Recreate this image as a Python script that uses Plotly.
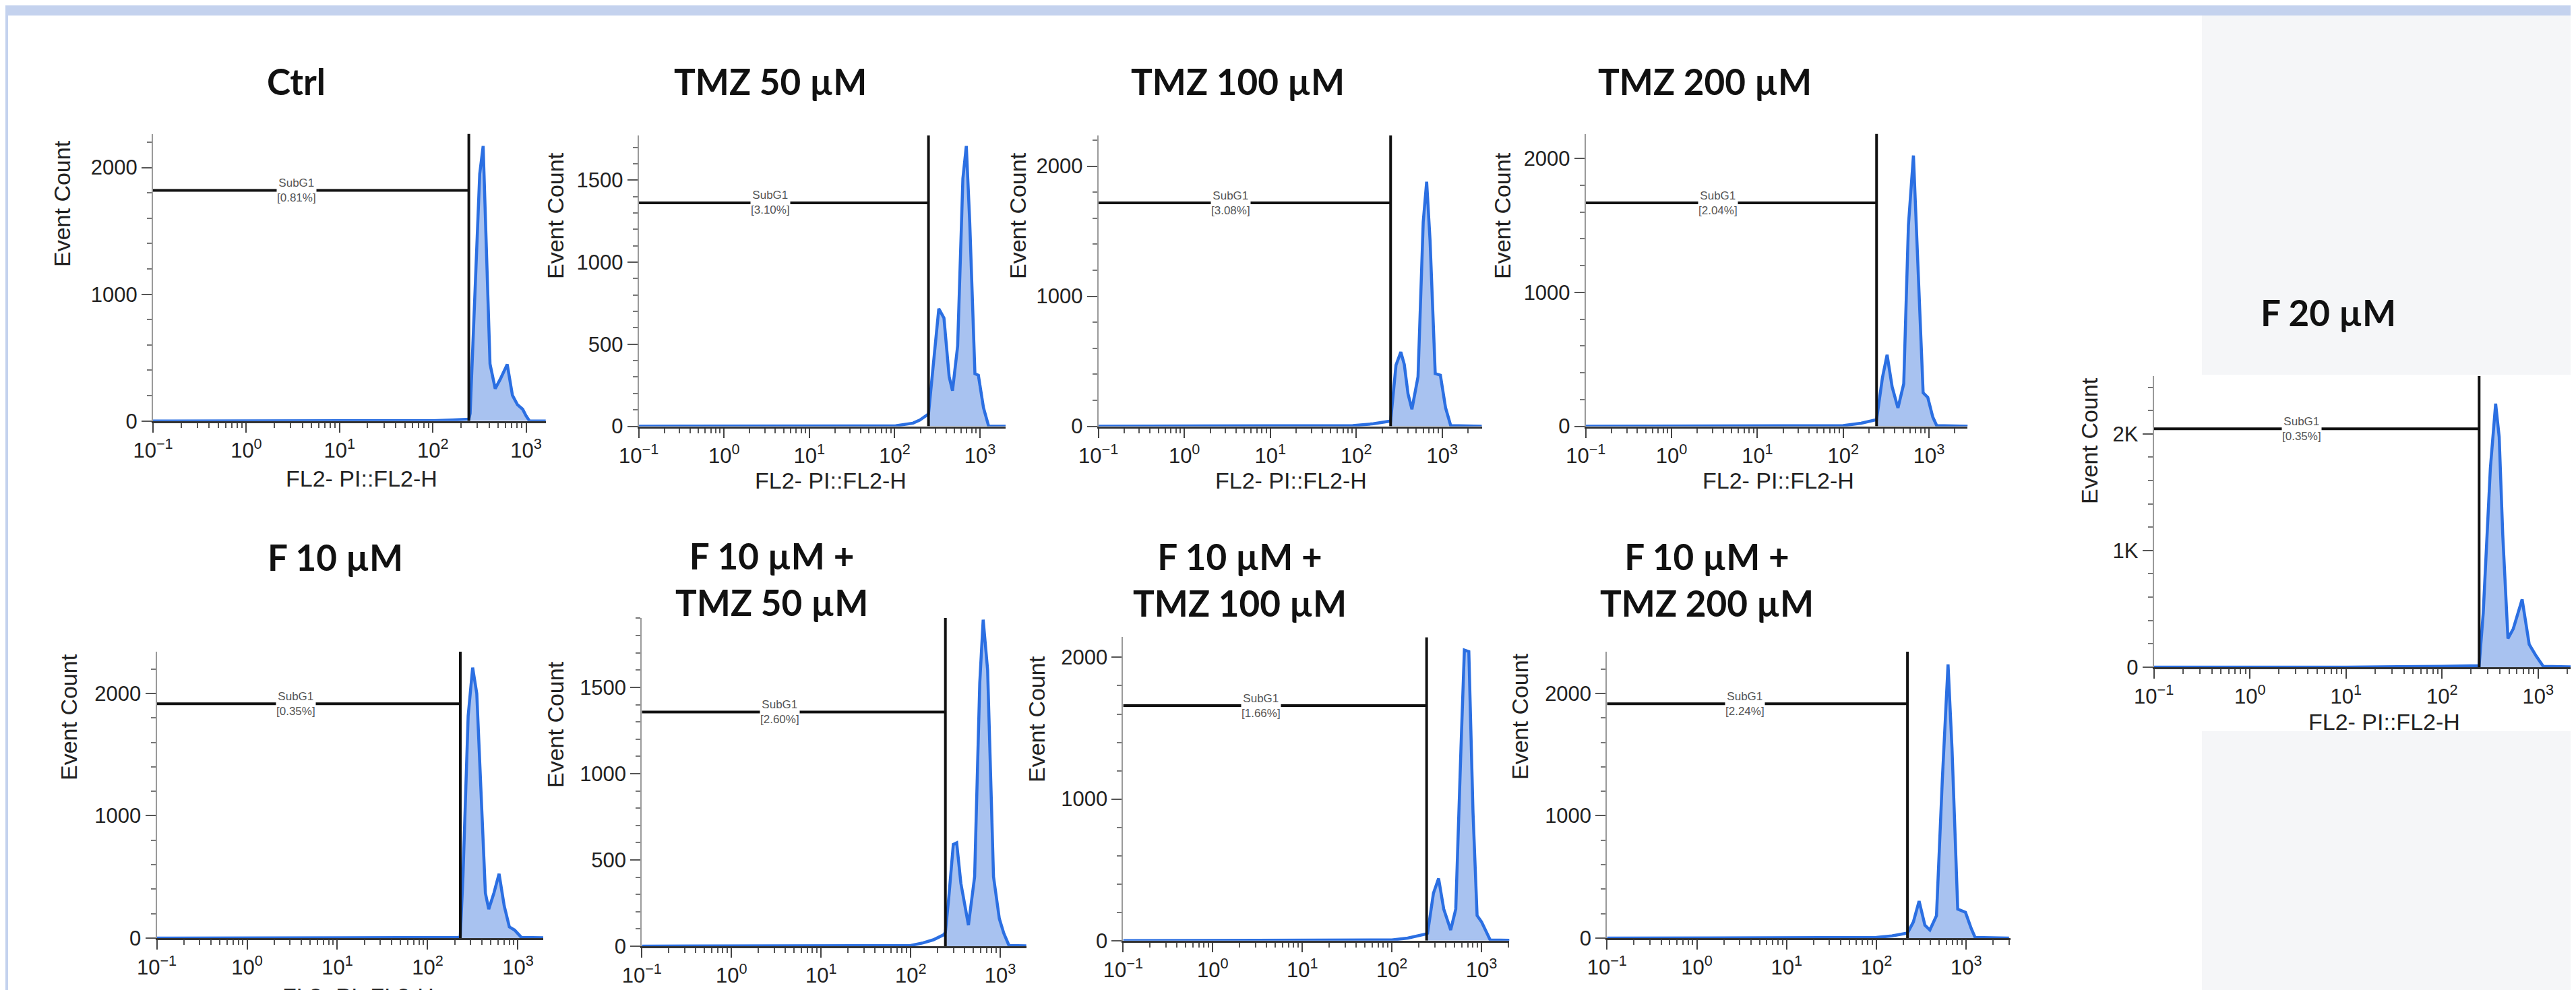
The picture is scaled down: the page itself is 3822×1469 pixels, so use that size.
import math
import plotly.graph_objects as go

W, H = 3822, 1469

# ---------------- data ----------------
TITLES = ["Ctrl", "TMZ 50 µM", "TMZ 100 µM", "TMZ 200 µM", "F 20 µM",
          "F 10 µM", "F 10 µM +<br>TMZ 50 µM", "F 10 µM +<br>TMZ 100 µM",
          "F 10 µM +<br>TMZ 200 µM"]
SUBG1_PCT = ["0.81", "3.10", "3.08", "2.04", "0.35", "0.35", "2.60", "1.66", "2.24"]
GATE_X = [243, 249, 251, 245, 243, 230, 244, 244, 222]
GATE_Y = [1820, 1362, 1718, 1669, 2044, 1916, 1357, 1659, 1916]

CTRL_X = [0.1, 1, 10, 100, 160, 243, 251, 280, 318, 346, 377, 410, 466, 528, 627, 713, 807, 918, 1000, 1087, 3000]
CTRL_Y = [0, 0, 0, 3, 8, 15, 60, 950, 1950, 2170, 1330, 450, 255, 330, 447, 203, 129, 93, 40, 0, 0]

TMZ50_X = [0.1, 1, 10, 103, 164, 197, 249, 286, 329, 378, 435, 476, 547, 630, 691, 758, 872, 957, 1099, 1264, 3000]
TMZ50_Y = [0, 0, 0, 3, 19, 38, 75, 396, 717, 660, 302, 217, 490, 1510, 1708, 1245, 320, 311, 113, 0, 0]

TMZ100_X = [0.1, 1, 10, 91, 158, 239, 251, 290, 330, 362, 400, 444, 523, 601, 659, 722, 829, 952, 1093, 1256, 3000]
TMZ100_Y = [0, 0, 0, 5, 19, 36, 40, 470, 571, 476, 250, 131, 381, 1571, 1881, 1429, 405, 393, 143, 5, 0]

TMZ200_X = [0.1, 1, 10, 100, 162, 234, 245, 287, 325, 372, 435, 508, 576, 659, 731, 855, 968, 1109, 1230, 3000]
TMZ200_Y = [0, 0, 0, 5, 23, 45, 50, 364, 534, 295, 136, 318, 1500, 2023, 1273, 250, 216, 68, 5, 0]

F20_X = [0.1, 1, 10, 100, 236, 243, 268, 318, 361, 393, 428, 485, 551, 681, 807, 955, 1130, 3000]
F20_Y = [0, 0, 0, 7, 10, 12, 463, 1705, 2259, 1973, 1134, 245, 329, 581, 195, 94, 7, 0]

F10_X = [0.1, 1, 10, 100, 226, 230, 246, 281, 315, 350, 382, 436, 475, 542, 618, 705, 803, 918, 1094, 3000]
F10_Y = [0, 0, 0, 2, 5, 20, 500, 1816, 2211, 2000, 1290, 368, 237, 368, 526, 263, 92, 66, 5, 0]

F10T50_X = [0.1, 1, 10, 100, 137, 179, 233, 244, 267, 299, 326, 363, 441, 517, 590, 644, 722, 840, 976, 1094, 1250, 3000]
F10T50_Y = [0, 0, 0, 4, 19, 37, 66, 80, 290, 590, 599, 365, 122, 403, 1527, 1892, 1601, 403, 159, 75, 4, 0]

F10T100_X = [0.1, 1, 10, 100, 150, 213, 244, 250, 291, 332, 379, 453, 516, 590, 644, 722, 804, 893, 1003, 1250, 3000]
F10T100_Y = [0, 0, 0, 5, 18, 36, 48, 52, 336, 439, 223, 75, 223, 1359, 2052, 2041, 905, 177, 132, 5, 0]

F10T200_X = [0.1, 1, 10, 100, 149, 218, 222, 258, 299, 347, 394, 467, 542, 628, 695, 805, 982, 1138, 1259, 3000]
F10T200_Y = [0, 0, 0, 5, 18, 39, 42, 132, 303, 105, 66, 184, 1290, 2237, 1553, 237, 211, 79, 5, 0]

HIST = [(CTRL_X, CTRL_Y), (TMZ50_X, TMZ50_Y), (TMZ100_X, TMZ100_Y), (TMZ200_X, TMZ200_Y),
        (F20_X, F20_Y), (F10_X, F10_Y), (F10T50_X, F10T50_Y), (F10T100_X, F10T100_Y),
        (F10T200_X, F10T200_Y)]

X_TICK_VALS = [0.1, 1, 10, 100, 1000]
X_TICK_TEXT = ["10<sup>−1</sup>", "10<sup>0</sup>", "10<sup>1</sup>", "10<sup>2</sup>", "10<sup>3</sup>"]

Y_TICK_VALS = [[0, 1000, 2000], [0, 500, 1000, 1500], [0, 1000, 2000], [0, 1000, 2000],
               [0, 1000, 2000], [0, 1000, 2000], [0, 500, 1000, 1500], [0, 1000, 2000],
               [0, 1000, 2000]]
Y_TICK_TEXT = [["0", "1000", "2000"], ["0", "500", "1000", "1500"], ["0", "1000", "2000"],
               ["0", "1000", "2000"], ["0", "1K", "2K"], ["0", "1000", "2000"],
               ["0", "500", "1000", "1500"], ["0", "1000", "2000"], ["0", "1000", "2000"]]

X_TITLE = "FL2- PI::FL2-H"
Y_TITLE = "Event Count"

# ---------------- layout geometry (pixels) ----------------
# left, right, top, bottom, xmax(log10), ymax, yminor, title(x,y), ylabel(x,y), xlabel(x,y)
GEOM = [
    (219, 801.7, 190.6, 616.7, 3.21, 2266, 200, (431, 112), (84, 294), (528, 702)),
    (939.7, 1484, 192.9, 624.5, 3.30, 1773, 100, (1135, 112), (816, 312), (1224, 705)),
    (1621.6, 2190.5, 192.9, 624.5, 3.46, 2237, 200, (1828, 112), (1502, 312), (1907, 705)),
    (2344.8, 2911.3, 190.6, 624.5, 3.45, 2185, 200, (2521, 112), (2221, 312), (2630, 705)),
    (3187.7, 3822, 549.7, 981.9, 3.45, 2498, 200, (3446, 455), (3092, 646), (3529, 1063)),
    (224.5, 798, 958.9, 1384, 3.28, 2342, 200, (490, 818), (94, 1056), (523, 1470)),
    (944.3, 1514.7, 908.7, 1396, 3.29, 1903, 100, (1137, 851), (816, 1067), (1239, 1476)),
    (1658.4, 2231.3, 937.4, 1387.8, 3.31, 2143, 200, (1831, 852), (1530, 1059), (1958, 1472)),
    (2376.3, 2974.5, 958.9, 1384, 3.49, 2342, 200, (2524, 852), (2247, 1055), (2676, 1472)),
]
LABEL_LOGX = 0.54

BLUE = "#2b6fe2"
FILL = "#a8c2f0"
SANS = "Liberation Sans, Arial, sans-serif"
TICK_FONT = dict(family=SANS, size=31, color="#222")
TITLE_FONT = dict(family="Lato, Carlito, sans-serif", size=53, color="#111")


def px(x):
    return x / W


def py(y):
    return 1 - y / H


X_MINOR = [m * 10.0 ** e for e in range(-1, 4) for m in range(2, 10)]

fig = go.Figure()
annotations = []
layout_axes = {}

for i in range(9):
    n = i + 1
    xr = "x" if n == 1 else f"x{n}"
    yr = "y" if n == 1 else f"y{n}"
    left, right, top, bottom, xmax, ymax, yminor, tpos, ypos, xpos = GEOM[i]
    xs, ys = HIST[i]
    g = GATE_X[i]
    gy = GATE_Y[i]

    fx = [x for x in xs if x >= g]
    fy = [y for x, y in zip(xs, ys) if x >= g]
    fig.add_trace(go.Scatter(x=fx, y=fy, mode="lines", line=dict(width=0, color=FILL),
                             fill="tozeroy", fillcolor=FILL, xaxis=xr, yaxis=yr,
                             hoverinfo="skip", showlegend=False))
    fig.add_trace(go.Scatter(x=xs, y=ys, mode="lines", line=dict(color=BLUE, width=4.5),
                             xaxis=xr, yaxis=yr, showlegend=False))
    fig.add_trace(go.Scatter(x=[g, g], y=[0, ymax], mode="lines",
                             line=dict(color="#111", width=4), xaxis=xr, yaxis=yr,
                             showlegend=False))
    fig.add_trace(go.Scatter(x=[0.1, g], y=[gy, gy], mode="lines",
                             line=dict(color="#111", width=4), xaxis=xr, yaxis=yr,
                             showlegend=False))

    xa = "xaxis" if n == 1 else f"xaxis{n}"
    ya = "yaxis" if n == 1 else f"yaxis{n}"
    layout_axes[xa] = dict(
        domain=[px(left), min(px(right), 1)], anchor=yr, type="log", range=[-1, xmax],
        showline=True, linecolor="#333", linewidth=3, ticks="outside", ticklen=14,
        tickwidth=2, tickcolor="#444", tickvals=X_TICK_VALS, ticktext=X_TICK_TEXT,
        tickfont=TICK_FONT, showgrid=False, zeroline=False, layer="below traces",
        automargin=False,
        minor=dict(tickvals=X_MINOR, ticks="outside", ticklen=7, tickwidth=2,
                   tickcolor="#555", showgrid=False),
    )
    layout_axes[ya] = dict(
        domain=[py(bottom), py(top)], anchor=xr, range=[0, ymax],
        showline=True, linecolor="#9a9a9a", linewidth=2, ticks="outside", ticklen=15,
        tickwidth=2, tickcolor="#555", tickvals=Y_TICK_VALS[i], ticktext=Y_TICK_TEXT[i],
        tickfont=TICK_FONT, showgrid=False, zeroline=False, automargin=False,
        minor=dict(dtick=yminor, tick0=0, ticks="outside", ticklen=7, tickwidth=2,
                   tickcolor="#777", showgrid=False),
    )

    annotations.append(dict(text=f"<b>{TITLES[i]}</b>", x=px(tpos[0]), y=py(tpos[1]),
                            xref="paper", yref="paper", showarrow=False,
                            xanchor="center", yanchor="middle", font=TITLE_FONT))
    annotations.append(dict(text=Y_TITLE, x=px(ypos[0]), y=py(ypos[1]), xref="paper",
                            yref="paper", showarrow=False, textangle=-90,
                            xanchor="center", yanchor="middle",
                            font=dict(family=SANS, size=34, color="#222")))
    annotations.append(dict(text=X_TITLE, x=px(xpos[0]), y=py(xpos[1]), xref="paper",
                            yref="paper", showarrow=False, xanchor="center",
                            yanchor="middle",
                            font=dict(family=SANS, size=34, color="#222")))
    annotations.append(dict(text=f"SubG1<br>[{SUBG1_PCT[i]}%]", x=LABEL_LOGX, y=gy,
                            xref=xr, yref=yr, showarrow=False, xanchor="center",
                            yanchor="middle", bgcolor="white", borderpad=0,
                            font=dict(family=SANS, size=17, color="#555")))

shapes = [
    dict(type="rect", xref="paper", yref="paper", x0=px(4), x1=1.01, y0=-0.01, y1=py(15),
         fillcolor="white", line=dict(width=0), layer="below"),
    dict(type="rect", xref="paper", yref="paper", x0=px(3259), x1=1.01, y0=-0.01, y1=py(15),
         fillcolor="#f5f6f8", line=dict(width=0), layer="below"),
    dict(type="rect", xref="paper", yref="paper", x0=px(3063), x1=1.01, y0=py(1077), y1=py(548),
         fillcolor="white", line=dict(width=0), layer="below"),
]

fig.update_layout(
    width=W, height=H,
    margin=dict(l=0, r=0, t=0, b=0, pad=0, autoexpand=False),
    paper_bgcolor="#c4d2ee", plot_bgcolor="rgba(0,0,0,0)",
    showlegend=False, annotations=annotations, shapes=shapes,
    **layout_axes,
)

fig.write_html("out.html")
